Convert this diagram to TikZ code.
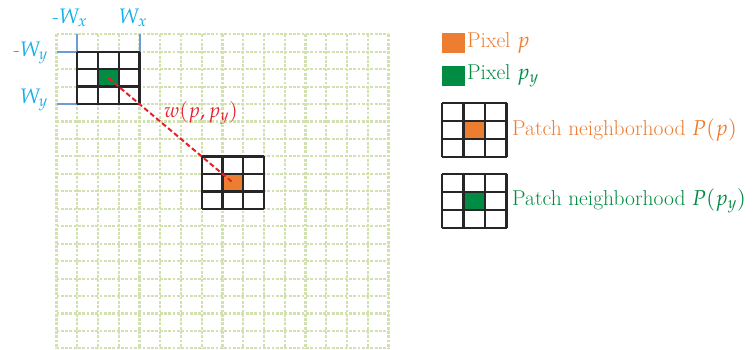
\documentclass[tikz,border=0pt]{standalone}
\usepackage{mathpazo}
\definecolor{gridc}{RGB}{210,225,176}
\definecolor{orangec}{RGB}{237,125,49}
\definecolor{greenc}{RGB}{0,140,66}
\definecolor{redc}{RGB}{232,30,40}
\definecolor{cyanc}{RGB}{20,175,235}
\definecolor{bluec}{RGB}{110,155,210}
\tikzset{
  gridline/.style={draw=gridc, line width=2.1pt, dash pattern=on 2.8pt off 1.5pt},
  patchline/.style={draw=black!85, line width=2.3pt},
  markline/.style={draw=bluec, line width=2pt},
  cell/.style={draw=none, rectangle, inner sep=0pt, minimum width=20.75pt, minimum height=17.45pt},
  lcell/.style={draw=none, rectangle, inner sep=0pt, minimum width=21.5pt, minimum height=18pt},
  wlabel/.style={text=cyanc, font=\fontsize{21}{23}\selectfont, inner sep=0pt},
  legtext/.style={font=\fontsize{21.5}{24}\selectfont, inner sep=0pt, anchor=west},
}
\begin{document}
\begin{tikzpicture}[x=1pt,y=-1pt]
\useasboundingbox (0,0) rectangle (755,350);
\def\gx{56.5}\def\gy{34.3}\def\dx{20.75}\def\dy{17.45}
% coloured cells
\node[cell, fill=greenc] (g) at ({\gx+2.5*\dx},{\gy+2.5*\dy}) {};
\node[cell, fill=orangec] (o) at ({\gx+8.5*\dx},{\gy+8.5*\dy}) {};
% background grid
\foreach \i in {0,...,16} \draw[gridline] ({\gx+\i*\dx},\gy) -- ({\gx+\i*\dx},{\gy+18*\dy});
\foreach \j in {0,...,18} \draw[gridline] (\gx,{\gy+\j*\dy}) -- ({\gx+16*\dx},{\gy+\j*\dy});
% blue markers
\draw[markline] ({\gx+1*\dx},\gy) -- ({\gx+1*\dx},{\gy+1*\dy});
\draw[markline] ({\gx+4*\dx},\gy) -- ({\gx+4*\dx},{\gy+1*\dy});
\draw[markline] (\gx,{\gy+1*\dy}) -- ({\gx+1*\dx},{\gy+1*\dy});
\draw[markline] (\gx,{\gy+4*\dy}) -- ({\gx+1*\dx},{\gy+4*\dy});
% patches
\foreach \a in {0,...,3} {
  \draw[patchline] ({\gx+(1+\a)*\dx},{\gy+1*\dy}) -- ({\gx+(1+\a)*\dx},{\gy+4*\dy});
  \draw[patchline] ({\gx+1*\dx},{\gy+(1+\a)*\dy}) -- ({\gx+4*\dx},{\gy+(1+\a)*\dy});
  \draw[patchline] ({\gx+(7+\a)*\dx},{\gy+7*\dy}) -- ({\gx+(7+\a)*\dx},{\gy+10*\dy});
  \draw[patchline] ({\gx+7*\dx},{\gy+(7+\a)*\dy}) -- ({\gx+10*\dx},{\gy+(7+\a)*\dy});
}
% connector
\draw[redc, line width=2pt, dash pattern=on 5pt off 2.8pt] (g.center) -- (o.center);
\node[text=redc, font=\fontsize{20.5}{22}\selectfont, inner sep=0pt] (wl) at (201,113) {$w(p,p_y)$};
% W labels
\node[wlabel] (mwx) at (70,18) {-$W_x$};
\node[wlabel] (wx) at (133,18) {$W_x$};
\node[wlabel, anchor=east] (mwy) at (48,53) {-$W_y$};
\node[wlabel, anchor=east] (wy) at (48,100) {$W_y$};
% legend
\node[rectangle, inner sep=0pt, minimum width=23pt, minimum height=19.4pt, fill=orangec] (lo) at (453.5,43) {};
\node[legtext, text=orangec] (tlo) at (467,43) {Pixel $p$};
\node[rectangle, inner sep=0pt, minimum width=23pt, minimum height=19.4pt, fill=greenc] (lg) at (453.5,76) {};
\node[legtext, text=greenc] (tlg) at (467,76) {Pixel $p_y$};
\node[lcell, fill=orangec] (lpo) at ({442+1.5*21.5},{103.3+1.5*18}) {};
\node[lcell, fill=greenc] (lpg) at ({442+1.5*21.5},{174+1.5*18}) {};
\foreach \a in {0,...,3} {
  \draw[patchline] ({442+\a*21.5},103.3) -- ({442+\a*21.5},{103.3+54});
  \draw[patchline] (442,{103.3+\a*18}) -- ({442+64.5},{103.3+\a*18});
  \draw[patchline] ({442+\a*21.5},174) -- ({442+\a*21.5},{174+54});
  \draw[patchline] (442,{174+\a*18}) -- ({442+64.5},{174+\a*18});
}
\node[legtext, text=orangec] (tpo) at (512,130) {Patch neighborhood $P(p)$};
\node[legtext, text=greenc] (tpg) at (512,201) {Patch neighborhood $P(p_y)$};
\end{tikzpicture}
\end{document}
